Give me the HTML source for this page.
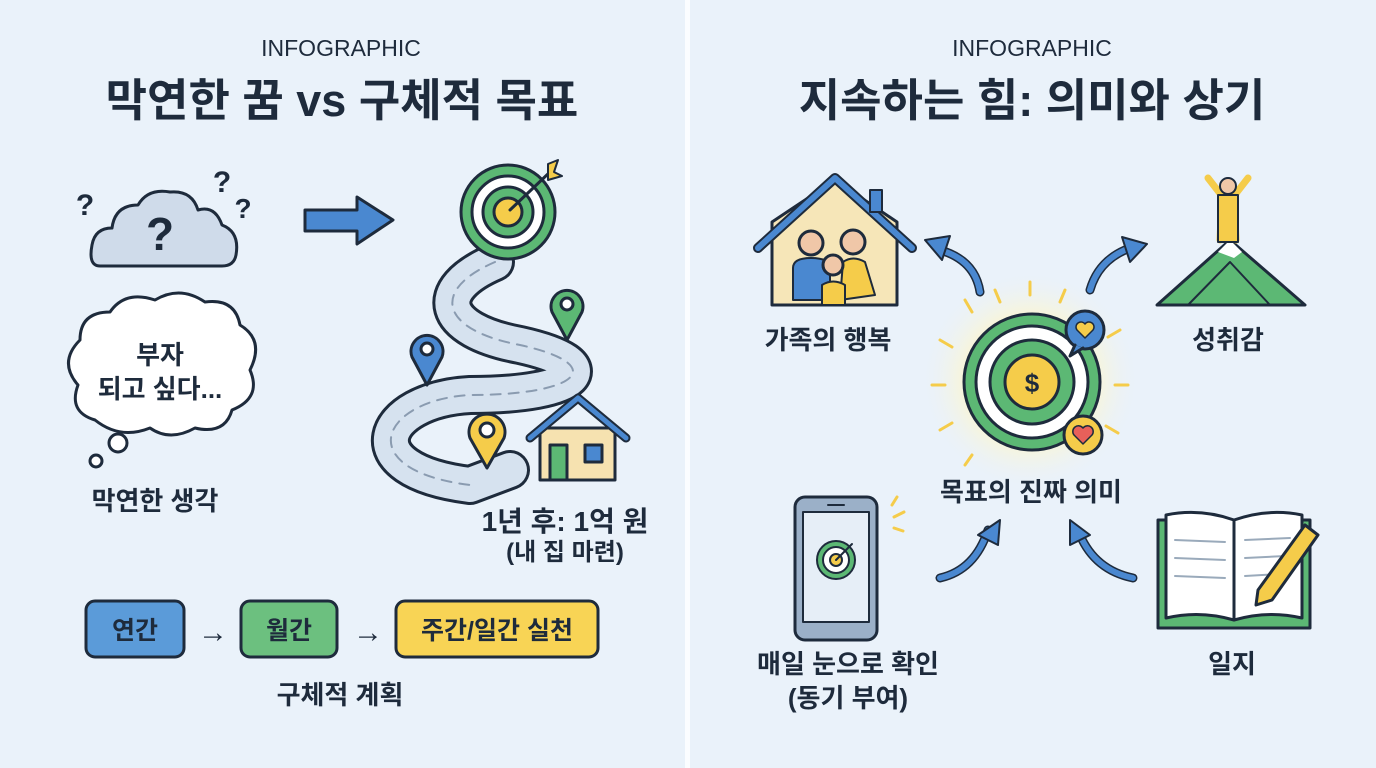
<!DOCTYPE html>
<html><head><meta charset="utf-8"><style>
body{margin:0;background:#eaf2fa}
svg{display:block}
text{font-family:"Liberation Sans","Noto Sans CJK KR",sans-serif;fill:#1e2b3c}
</style></head><body>
<svg width="1376" height="768" viewBox="0 0 1376 768" xmlns="http://www.w3.org/2000/svg">
<defs>
<radialGradient id="glow"><stop offset="0.5" stop-color="#fff6c8"/><stop offset="1" stop-color="#eaf2fa" stop-opacity="0"/></radialGradient>
</defs>
<rect width="1376" height="768" fill="#eaf2fa"/>
<rect x="685" y="0" width="5" height="768" fill="#fbfdff"/>
<g stroke="#1e2b3c" stroke-width="3" stroke-linejoin="round" stroke-linecap="round">
<!-- titles -->
<text x="341" y="56" font-size="23" text-anchor="middle" stroke="none" fill="#333">INFOGRAPHIC</text>
<text x="342" y="116" font-size="45" font-weight="bold" text-anchor="middle" stroke="none">막연한 꿈 vs 구체적 목표</text>
<text x="1032" y="56" font-size="23" text-anchor="middle" stroke="none" fill="#333">INFOGRAPHIC</text>
<text x="1032" y="116" font-size="45" font-weight="bold" text-anchor="middle" stroke="none">지속하는 힘: 의미와 상기</text>

<!-- cloud -->
<path d="M100,266 Q88,266 92,245 Q95,228 112,228 Q115,205 138,205 Q148,188 170,192 Q192,190 198,210 Q215,205 222,225 Q240,232 236,255 Q234,266 222,266 Z" fill="#cfdbea"/>
<text x="160" y="250" font-size="46" font-weight="bold" text-anchor="middle" stroke="none" fill="#6f85a0">?</text>
<text x="85" y="215" font-size="30" font-weight="bold" text-anchor="middle" stroke="none" fill="#7d90a8">?</text>
<text x="222" y="192" font-size="30" font-weight="bold" text-anchor="middle" stroke="none" fill="#7d90a8">?</text>
<text x="243" y="218" font-size="28" font-weight="bold" text-anchor="middle" stroke="none" fill="#7d90a8">?</text>
<!-- arrow -->
<path d="M305,210 L357,210 L357,197 L393,220 L357,244 L357,231 L305,231 Z" fill="#4a88d0"/>
<!-- thought cloud -->
<path d="M95,420 Q68,412 78,385 Q58,362 80,340 Q80,312 110,312 Q125,290 155,300 Q180,285 205,302 Q235,298 240,325 Q265,340 250,370 Q262,398 232,410 Q225,435 195,428 Q170,442 150,428 Q120,440 95,420 Z" fill="#fff"/>
<circle cx="118" cy="443" r="9" fill="#fff"/>
<circle cx="96" cy="461" r="6" fill="#fff"/>
<text x="160" y="364" font-size="26" font-weight="bold" text-anchor="middle" stroke="none">부자</text>
<text x="160" y="398" font-size="26" font-weight="bold" text-anchor="middle" stroke="none">되고 싶다...</text>
<text x="155" y="510" font-size="26" font-weight="bold" text-anchor="middle" stroke="none">막연한 생각</text>

<!-- road -->
<path d="M495,262 C430,290 440,330 520,345 C610,365 580,395 470,395 C380,400 350,470 470,485 L510,470" fill="none" stroke-width="40" stroke="#1e2b3c"/>
<path d="M495,262 C430,290 440,330 520,345 C610,365 580,395 470,395 C380,400 350,470 470,485 L510,470" fill="none" stroke-width="34" stroke="#d6e2ef"/>
<path d="M495,262 C430,290 440,330 520,345 C610,365 580,395 470,395 C380,400 350,470 470,485" fill="none" stroke-width="2" stroke="#8a9bb0" stroke-dasharray="10,8"/>
<!-- target -->
<circle cx="508" cy="212" r="47" fill="#5cb874"/>
<circle cx="508" cy="212" r="36" fill="#fff"/>
<circle cx="508" cy="212" r="25" fill="#5cb874"/>
<circle cx="508" cy="212" r="14" fill="#f5cc4a"/>
<line x1="510" y1="210" x2="550" y2="172"/>
<path d="M548,164 L558,160 L554,172 L562,176 L548,180 Z" fill="#f5cc4a" stroke-width="2"/>
<!-- pins -->
<path d="M567,340 L552,312 A16,16 0 1,1 582,312 Z" fill="#5cb874"/><circle cx="567" cy="304" r="6" fill="#fff"/>
<path d="M427,385 L412,357 A16,16 0 1,1 442,357 Z" fill="#4a88d0"/><circle cx="427" cy="349" r="6" fill="#fff"/>
<path d="M487,468 L470,438 A18,18 0 1,1 504,438 Z" fill="#f5cc4a"/><circle cx="487" cy="430" r="7" fill="#fff"/>
<!-- house -->
<rect x="540" y="428" width="75" height="52" fill="#f6e2b0"/>
<path d="M530,438 L578,398 L626,438" fill="none" stroke="#1e2b3c" stroke-width="9"/>
<path d="M530,438 L578,398 L626,438" fill="none" stroke="#4a88d0" stroke-width="5"/>
<rect x="550" y="445" width="17" height="35" fill="#5cb874"/>
<rect x="585" y="445" width="17" height="17" fill="#4a88d0"/>
<text x="565" y="531" font-size="28" font-weight="bold" text-anchor="middle" stroke="none">1년 후: 1억 원</text>
<text x="565" y="560" font-size="24" font-weight="bold" text-anchor="middle" stroke="none">(내 집 마련)</text>

<!-- plan boxes -->
<rect x="86" y="601" width="98" height="56" rx="9" fill="#5b9bd9"/>
<text x="135" y="639" font-size="25" font-weight="bold" text-anchor="middle" stroke="none">연간</text>
<text x="213" y="642" font-size="30" text-anchor="middle" stroke="none">→</text>
<rect x="241" y="601" width="96" height="56" rx="9" fill="#6cc07f"/>
<text x="289" y="639" font-size="25" font-weight="bold" text-anchor="middle" stroke="none">월간</text>
<text x="368" y="642" font-size="30" text-anchor="middle" stroke="none">→</text>
<rect x="396" y="601" width="202" height="56" rx="9" fill="#f8d455"/>
<text x="497" y="639" font-size="25" font-weight="bold" text-anchor="middle" stroke="none">주간/일간 실천</text>
<text x="340" y="704" font-size="26" font-weight="bold" text-anchor="middle" stroke="none">구체적 계획</text>

<!-- RIGHT -->
<path d="M772,222 L772,305 L897,305 L897,222 L835,180 Z" fill="#f6e6b8"/>
<path d="M758,248 L835,178 L912,248" fill="none" stroke="#1e2b3c" stroke-width="10"/>
<path d="M758,248 L835,178 L912,248" fill="none" stroke="#4a88d0" stroke-width="6"/>
<rect x="870" y="190" width="12" height="22" fill="#4a88d0" stroke-width="2"/>
<circle cx="811" cy="243" r="12" fill="#f0c7a8"/>
<path d="M793,300 L793,268 Q793,258 811,258 Q830,258 830,268 L830,300 Z" fill="#4a88d0" stroke-width="2"/>
<circle cx="853" cy="242" r="12" fill="#f0c7a8"/>
<path d="M840,300 L843,262 Q853,255 865,262 L875,295 Z" fill="#f5cc4a" stroke-width="2"/>
<circle cx="833" cy="265" r="10" fill="#f0c7a8"/>
<path d="M822,305 L822,285 Q833,278 845,285 L845,305 Z" fill="#f5cc4a" stroke-width="2"/>
<text x="828" y="349" font-size="26" font-weight="bold" text-anchor="middle" stroke="none">가족의 행복</text>
<!-- mountain -->
<path d="M1157,305 L1230,240 L1305,305 Z" fill="#5cb874"/>
<path d="M1188,305 L1230,262 L1270,305" fill="none" stroke-width="2"/>
<path d="M1218,252 L1230,240 L1242,252 L1234,258 Z" fill="#fff" stroke="none"/>
<path d="M1220,240 L1222,196 L1208,178 M1236,240 L1234,196 L1248,178" fill="none" stroke="#f5cc4a" stroke-width="7"/>
<rect x="1218" y="195" width="20" height="47" fill="#f5cc4a" stroke-width="2"/>
<circle cx="1228" cy="186" r="8" fill="#f0c7a8" stroke-width="2"/>
<text x="1228" y="349" font-size="26" font-weight="bold" text-anchor="middle" stroke="none">성취감</text>
<!-- center -->
<circle cx="1030" cy="380" r="110" fill="url(#glow)" stroke="none"/>
<g stroke="#f5cc4a" stroke-width="3">
<line x1="1030" y1="282" x2="1030" y2="295"/><line x1="995" y1="290" x2="1000" y2="302"/><line x1="1065" y1="290" x2="1060" y2="302"/>
<line x1="932" y1="385" x2="945" y2="385"/><line x1="1128" y1="385" x2="1115" y2="385"/>
<line x1="940" y1="340" x2="952" y2="347"/><line x1="1120" y1="330" x2="1108" y2="337"/>
<line x1="940" y1="430" x2="952" y2="423"/><line x1="1118" y1="433" x2="1106" y2="426"/>
<line x1="965" y1="300" x2="972" y2="312"/><line x1="965" y1="465" x2="972" y2="455"/>
</g>
<circle cx="1032" cy="382" r="68" fill="#5cb874"/>
<circle cx="1032" cy="382" r="56" fill="#fff"/>
<circle cx="1032" cy="382" r="42" fill="#5cb874"/>
<circle cx="1032" cy="382" r="27" fill="#f5cc4a"/>
<text x="1032" y="392" font-size="26" font-weight="bold" text-anchor="middle" stroke="none" fill="#c89a20">$</text>
<circle cx="1085" cy="330" r="19" fill="#4a88d0"/>
<path d="M1075,345 L1070,356 L1083,348" fill="#4a88d0"/>
<path d="M1085,338 L1077,330 A4,4 0 0,1 1085,324 A4,4 0 0,1 1093,330 Z" fill="#f5cc4a" stroke-width="1.5"/>
<circle cx="1083" cy="435" r="19" fill="#f5cc4a"/>
<path d="M1083,444 L1074,435 A5,5 0 0,1 1083,428 A5,5 0 0,1 1092,435 Z" fill="#e8605a" stroke-width="1.5"/>
<text x="1031" y="501" font-size="26" font-weight="bold" text-anchor="middle" stroke="none">목표의 진짜 의미</text>
<!-- curved arrows -->
<g fill="none" stroke-width="9">
<path d="M980,292 Q975,260 940,250"/><path d="M1090,290 Q1098,262 1125,250"/>
<path d="M940,578 Q975,570 988,530"/><path d="M1133,578 Q1095,570 1080,535"/>
</g>
<g fill="none" stroke="#4a88d0" stroke-width="6">
<path d="M980,292 Q975,260 940,250"/><path d="M1090,290 Q1098,262 1125,250"/>
<path d="M940,578 Q975,570 988,530"/><path d="M1133,578 Q1095,570 1080,535"/>
</g>
<path d="M925,240 L950,236 L942,260 Z" fill="#4a88d0" stroke-width="2"/>
<path d="M1147,244 L1122,237 L1130,262 Z" fill="#4a88d0" stroke-width="2"/>
<path d="M1000,520 L978,535 L998,545 Z" fill="#4a88d0" stroke-width="2"/>
<path d="M1070,520 L1070,545 L1090,535 Z" fill="#4a88d0" stroke-width="2"/>
<!-- phone -->
<rect x="795" y="497" width="82" height="143" rx="10" fill="#9bb0c8"/>
<rect x="803" y="512" width="66" height="110" fill="#e6eef7" stroke-width="2"/>
<line x1="828" y1="505" x2="844" y2="505" stroke-width="2"/>
<circle cx="836" cy="560" r="19" fill="#5cb874" stroke-width="2"/>
<circle cx="836" cy="560" r="13" fill="#fff" stroke-width="2"/>
<circle cx="836" cy="560" r="6" fill="#f5cc4a" stroke-width="2"/>
<line x1="836" y1="560" x2="852" y2="544" stroke-width="2"/>
<g stroke="#f5cc4a"><line x1="892" y1="505" x2="897" y2="497"/><line x1="894" y1="517" x2="904" y2="512"/><line x1="894" y1="528" x2="903" y2="531"/></g>
<text x="848" y="673" font-size="26" font-weight="bold" text-anchor="middle" stroke="none">매일 눈으로 확인</text>
<text x="848" y="707" font-size="26" font-weight="bold" text-anchor="middle" stroke="none">(동기 부여)</text>
<!-- book -->
<rect x="1158" y="520" width="152" height="108" fill="#5cb874"/>
<path d="M1166,515 Q1200,508 1234,520 L1234,620 Q1200,610 1166,618 Z" fill="#fff"/>
<path d="M1234,520 Q1268,508 1302,515 L1302,618 Q1268,610 1234,620 Z" fill="#fff"/>
<g stroke="#9aaabb" stroke-width="2"><line x1="1175" y1="540" x2="1225" y2="542"/><line x1="1175" y1="558" x2="1225" y2="560"/><line x1="1175" y1="576" x2="1225" y2="578"/><line x1="1245" y1="540" x2="1290" y2="538"/><line x1="1245" y1="558" x2="1285" y2="556"/><line x1="1245" y1="576" x2="1280" y2="574"/></g>
<path d="M1258,590 L1305,525 L1318,535 L1272,600 L1256,605 Z" fill="#f5cc4a"/>
<text x="1232" y="673" font-size="26" font-weight="bold" text-anchor="middle" stroke="none">일지</text>
</g>
</svg>
</body></html>
